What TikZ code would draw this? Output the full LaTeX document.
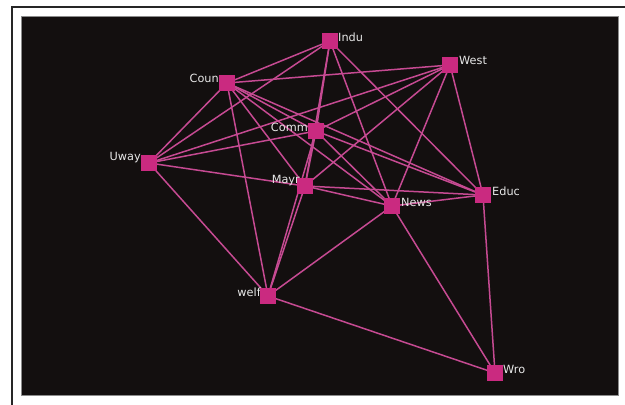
\documentclass[tikz,border=0pt]{standalone}
\usepackage{fontspec}
\setmainfont{DejaVu Sans}
\begin{document}
\begin{tikzpicture}[x=1pt,y=-1pt,
  vtx/.style={rectangle,fill=nodepink,minimum size=15pt,inner sep=0pt},
  lblr/.style={anchor=west,text=labelgray,font=\fontsize{11.3}{12}\selectfont,inner sep=0pt},
  lbll/.style={anchor=east,text=labelgray,font=\fontsize{11.3}{12}\selectfont,inner sep=0pt},
  link/.style={draw=edgepink,line width=1.5pt}]
\definecolor{nodepink}{RGB}{202,42,128}
\definecolor{edgepink}{RGB}{198,74,146}
\definecolor{labelgray}{RGB}{232,232,232}
\definecolor{panelbg}{RGB}{19,15,15}
\useasboundingbox (0,0) rectangle (625,405);
\fill[white] (0,0) rectangle (625,405);
\draw[line width=2pt,color=black!85] (11.5,405) -- (11.5,6.5) -- (625,6.5);
\draw[fill=panelbg,draw=black!45,line width=1pt] (21,16.5) rectangle (618,395);
% nodes
\node[vtx] (indu) at (330,41) {};
\node[vtx] (west) at (450,65) {};
\node[vtx] (coun) at (227,83) {};
\node[vtx] (comm) at (316,131) {};
\node[vtx] (uway) at (149,163) {};
\node[vtx] (mayr) at (305,186) {};
\node[vtx] (news) at (392,206) {};
\node[vtx] (educ) at (483,195) {};
\node[vtx] (welf) at (268,296) {};
\node[vtx] (wro) at (495,373) {};
% edges
\foreach \a/\b in {indu/coun,indu/uway,indu/comm,indu/mayr,indu/news,indu/educ,
  west/coun,west/uway,west/comm,west/mayr,west/news,west/educ,
  coun/uway,coun/comm,coun/mayr,coun/news,coun/educ,coun/welf,
  uway/comm,uway/mayr,uway/welf,
  comm/mayr,comm/news,comm/educ,comm/welf,
  mayr/news,mayr/educ,mayr/welf,
  news/educ,news/wro,news/welf,
  educ/wro,welf/wro}
  \draw[link] (\a) -- (\b);
% labels
\node[lblr] (lindu) at (338,37) {Indu};
\node[lblr] (lwest) at (459,60) {West};
\node[lbll] (lcoun) at (219,78) {Coun};
\node[lbll] (lcomm) at (308,127) {Comm};
\node[lbll] (luway) at (141,158) {Uway};
\node[lbll] (lmayr) at (300,181) {Mayr};
\node[lblr] (lnews) at (401,202) {News};
\node[lblr] (leduc) at (492,191) {Educ};
\node[lbll] (lwelf) at (261,292) {welf};
\node[lblr] (lwro) at (503,369) {Wro};
% redraw nodes on top
\foreach \n in {indu,west,coun,comm,uway,mayr,news,educ,welf,wro}
  \fill[nodepink] (\n.south west) rectangle (\n.north east);
\end{tikzpicture}
\end{document}
